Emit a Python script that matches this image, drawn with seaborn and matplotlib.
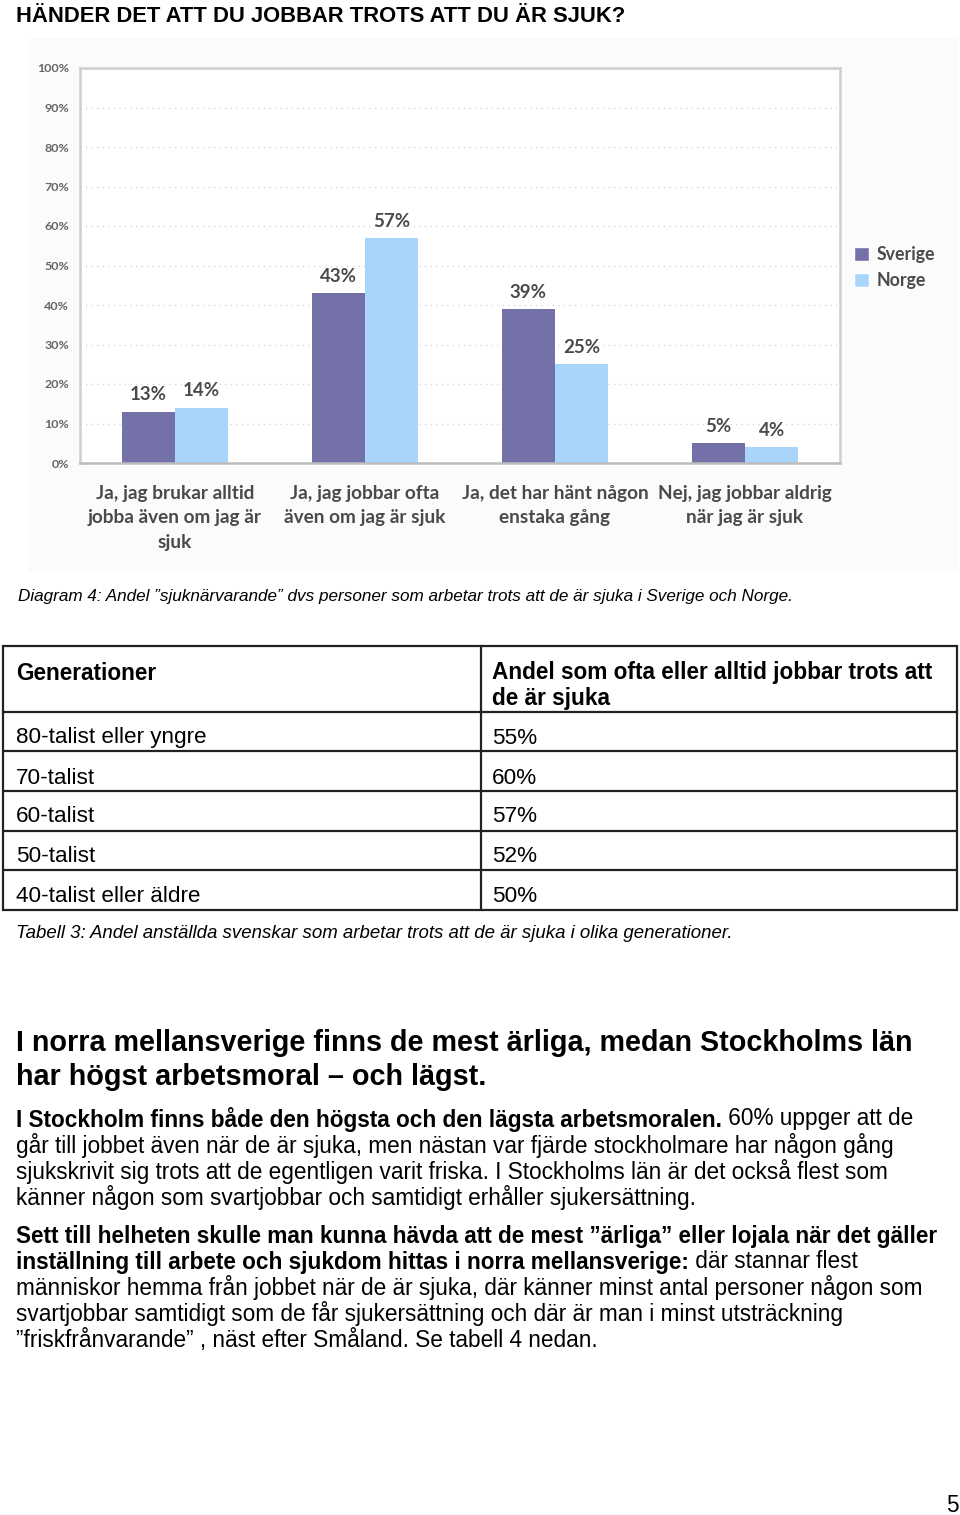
import numpy as np
import pandas as pd
import matplotlib
matplotlib.use("Agg")
import matplotlib.pyplot as plt
import seaborn as sns
from matplotlib.patches import Patch, Rectangle
from matplotlib.lines import Line2D

# ---------------- data ----------------
categories = [
    "Ja, jag brukar alltid\njobba även om jag är\nsjuk",
    "Ja, jag jobbar ofta\näven om jag är sjuk",
    "Ja, det har hänt någon\nenstaka gång",
    "Nej, jag jobbar aldrig\nnär jag är sjuk",
]
series_names = ["Sverige", "Norge"]
sverige = [13, 43, 39, 5]
norge = [14, 57, 25, 4]
yticks = list(range(0, 101, 10))
ytick_labels = [f"{v}%" for v in yticks]

generations = ["80-talist eller yngre", "70-talist", "60-talist", "50-talist", "40-talist eller äldre"]
gen_share = [55, 60, 57, 52, 50]

# ---------------- style ----------------
sns.set_theme(style="white")
plt.rcParams['font.family'] = ['Liberation Sans', 'DejaVu Sans']

C_SV = "#7471a9"
C_NO = "#a9d5fa"
CHART_TXT = "#4a4a4a"
CHART_FONT = ['Lato', 'DejaVu Sans']
DOC_FONT = ['Liberation Sans', 'DejaVu Sans']

W, H = 960, 1515
fig = plt.figure(figsize=(9.6, 15.15), dpi=100)
fig.patch.set_facecolor("white")
renderer = fig.canvas.get_renderer()

bg = fig.add_axes([0, 0, 1, 1], zorder=0)
bg.set_xlim(0, W)
bg.set_ylim(H, 0)
bg.axis('off')


def width_px(s, size, weight='normal', style='normal', family=DOC_FONT):
    t = bg.text(0, 0, s, fontsize=size, fontweight=weight, fontstyle=style, family=family)
    w = t.get_window_extent(renderer).width
    t.remove()
    return w


def fit(s, target, weight='normal', style='normal', family=DOC_FONT):
    return 10.0 * target / width_px(s, 10.0, weight, style, family)


def put(x, y, s, size, weight='normal', style='normal', ha='left'):
    return bg.text(x, y, s, fontsize=size, fontweight=weight, fontstyle=style,
                   ha=ha, va='center', color='black', family=DOC_FONT)


def put_mixed(x, y, bold_part, reg_part, size):
    put(x, y, bold_part, size, weight='bold')
    wb = width_px(bold_part, size, 'bold')
    put(x + wb, y, reg_part, size)


# faint chart image background
bg.add_patch(Rectangle((28, 38), 930, 534, facecolor="#fbfbfb", edgecolor="none"))

# ---------------- chart ----------------
xlab_size = fit("Ja, jag brukar alltid", 158, 'bold', family=CHART_FONT)
val_size = fit("57%", 37, 'bold', family=CHART_FONT)
ytk_size = fit("100%", 32, 'bold', family=CHART_FONT)
leg_size = fit("Sverige", 59, 'bold', family=CHART_FONT)

ax = fig.add_axes([80 / W, 1 - 463 / H, 760 / W, 395 / H], zorder=2)
ax.set_facecolor("white")
df = pd.DataFrame({
    "kategori": categories * 2,
    "land": [series_names[0]] * len(sverige) + [series_names[1]] * len(norge),
    "andel": sverige + norge,
})
sns.barplot(data=df, x="kategori", y="andel", hue="land", hue_order=series_names,
            palette=[C_SV, C_NO], saturation=1, width=0.56, gap=0,
            legend=False, ax=ax, linewidth=0)
ax.set_xlim(-0.5, 3.5)
ax.set_ylim(0, 100)
ax.set_xlabel("")
ax.set_ylabel("")

for cont, vals in zip(ax.containers, [sverige, norge]):
    ax.bar_label(cont, labels=[f"{v}%" for v in vals], padding=6,
                 fontsize=val_size, fontweight='bold', color=CHART_TXT, family=CHART_FONT)

ax.set_yticks(yticks)
ax.set_yticklabels(ytick_labels, fontsize=ytk_size, fontweight='bold', color="#666666", family=CHART_FONT)
ax.tick_params(axis='y', length=0, pad=8)
ax.tick_params(axis='x', length=0, pad=15.5)
for lab in ax.get_xticklabels():
    lab.set_fontsize(xlab_size)
    lab.set_fontweight('bold')
    lab.set_color(CHART_TXT)
    lab.set_family(CHART_FONT)
    lab.set_linespacing(1.55)
    lab.set_va('top')

ax.yaxis.grid(True, linestyle=(0, (1, 3)), color="#d8d8d8", linewidth=1)
ax.set_axisbelow(True)
for sp in ax.spines.values():
    sp.set_visible(True)
    sp.set_color("#cfcfcf")
    sp.set_linewidth(1.8)
ax.spines['bottom'].set_color("#bdbdbd")

handles = [Patch(facecolor=C_SV, label=series_names[0]), Patch(facecolor=C_NO, label=series_names[1])]
fig.legend(handles=handles, loc='upper left', bbox_to_anchor=(854 / W, 1 - 246 / H),
           frameon=False, handlelength=0.85, handleheight=0.85, handletextpad=0.4,
           labelspacing=0.5, borderaxespad=0, borderpad=0,
           prop=dict(family=CHART_FONT, weight='bold', size=leg_size), labelcolor=CHART_TXT)

# ---------------- document text ----------------
title = "HÄNDER DET ATT DU JOBBAR TROTS ATT DU ÄR SJUK?"
put(16, 17, title, fit(title, 606, 'bold'), weight='bold')

cap1 = "Diagram 4: Andel ”sjuknärvarande” dvs personer som arbetar trots att de är sjuka i Sverige och Norge."
put(18, 597, cap1, fit(cap1, 779, style='italic'), style='italic')

# table
tx0, tx1, ty0, ty1, tcol = 3, 957, 646, 910, 481
row_lines = [712, 751, 791, 831, 870]
bg.add_patch(Rectangle((tx0, ty0), tx1 - tx0, ty1 - ty0, facecolor='none', edgecolor='#222222', lw=1.6))
for yl in row_lines:
    bg.add_line(Line2D([tx0, tx1], [yl, yl], color='#222222', lw=1.6))
bg.add_line(Line2D([tcol, tcol], [ty0, ty1], color='#222222', lw=1.6))

hdr2a = "Andel som ofta eller alltid jobbar trots att"
hsize = fit(hdr2a, 442, 'bold')
put(16, 673, "Generationer", hsize, weight='bold')
put(492, 673, hdr2a, hsize, weight='bold')
put(492, 699, "de är sjuka", hsize, weight='bold')

rsize = fit(generations[0], 191)
row_y = [738, 778, 817, 857, 896]
for g, v, yy in zip(generations, gen_share, row_y):
    put(16, yy, g, rsize)
    put(492, yy, f"{v}%", rsize)

cap2 = "Tabell 3: Andel anställda svenskar som arbetar trots att de är sjuka i olika generationer."
put(16, 934, cap2, fit(cap2, 719, style='italic'), style='italic')

h1 = "I norra mellansverige finns de mest ärliga, medan Stockholms län"
h2 = "har högst arbetsmoral – och lägst."
hs = fit(h1, 899, 'bold')
put(16, 1043, h1, hs, weight='bold')
put(16, 1077, h2, hs, weight='bold')

p_ref = "går till jobbet även när de är sjuka, men nästan var fjärde stockholmare har någon gång"
ps = fit(p_ref, 879)
put_mixed(16, 1119, "I Stockholm finns både den högsta och den lägsta arbetsmoralen.", " 60% uppger att de", ps)
put(16, 1145, p_ref, ps)
put(16, 1171, "sjukskrivit sig trots att de egentligen varit friska. I Stockholms län är det också flest som", ps)
put(16, 1197, "känner någon som svartjobbar och samtidigt erhåller sjukersättning.", ps)

put(16, 1236, "Sett till helheten skulle man kunna hävda att de mest ”ärliga” eller lojala när det gäller", ps, weight='bold')
put_mixed(16, 1262, "inställning till arbete och sjukdom hittas i norra mellansverige:", " där stannar flest", ps)
put(16, 1288, "människor hemma från jobbet när de är sjuka, där känner minst antal personer någon som", ps)
put(16, 1314, "svartjobbar samtidigt som de får sjukersättning och där är man i minst utsträckning", ps)
put(16, 1340, "”friskfrånvarande” , näst efter Småland. Se tabell 4 nedan.", ps)

put(946, 1505, "5", ps)

fig.savefig("out.png", dpi=100, facecolor="white")
